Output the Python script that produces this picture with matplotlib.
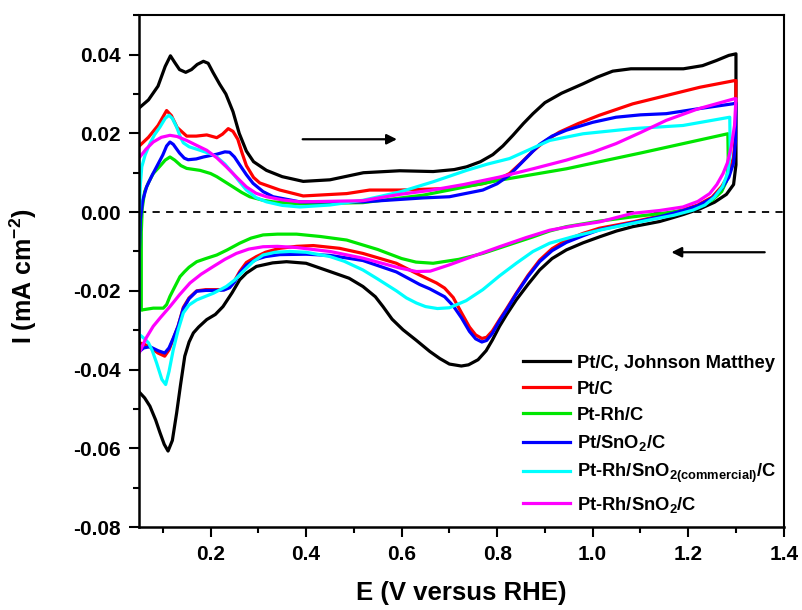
import matplotlib
matplotlib.use("Agg")
import matplotlib.pyplot as plt
from matplotlib.ticker import MultipleLocator
import numpy as np

plt.rcParams["font.family"] = ["Liberation Sans", "DejaVu Sans"]
plt.rcParams["font.weight"] = "bold"
plt.rcParams["mathtext.fontset"] = "custom"
plt.rcParams["mathtext.rm"] = "Liberation Sans:bold"
plt.rcParams["mathtext.it"] = "Liberation Sans:bold"
plt.rcParams["mathtext.bf"] = "Liberation Sans:bold"
plt.rcParams["mathtext.default"] = "rm"

# Cyclic voltammograms: forward (anodic) and reverse (cathodic) scans
# --- Pt/C, Johnson Matthey
jm_fwd_E = [0.05, 0.07, 0.09, 0.105, 0.116, 0.125, 0.135, 0.148, 0.16, 0.172, 0.185, 0.195,
            0.205, 0.219, 0.232, 0.247, 0.26, 0.275, 0.29, 0.317, 0.35, 0.394, 0.45, 0.52,
            0.596, 0.666, 0.71, 0.736, 0.765, 0.791, 0.812, 0.833, 0.855, 0.875, 0.90, 0.935,
            0.98, 1.01, 1.042, 1.08, 1.119, 1.19, 1.23, 1.259, 1.285, 1.30]
jm_fwd_I = [0.0264, 0.0285, 0.0320, 0.0370, 0.0397, 0.0380, 0.0362, 0.0355, 0.0362, 0.0375,
            0.0383, 0.0378, 0.0355, 0.0325, 0.0300, 0.0255, 0.0200, 0.0155, 0.0128, 0.0106,
            0.0090, 0.0078, 0.0082, 0.0100, 0.0105, 0.0103, 0.0108, 0.0115, 0.0128, 0.0146,
            0.0168, 0.0195, 0.0225, 0.0250, 0.0278, 0.0302, 0.0326, 0.0343, 0.0358, 0.0364,
            0.0364, 0.0364, 0.0372, 0.0385, 0.0398, 0.0402]
jm_rev_E = [1.30, 1.30, 1.295, 1.28, 1.255, 1.224, 1.19, 1.16, 1.14, 1.11, 1.084, 1.05, 1.014,
            0.98, 0.945, 0.915, 0.889, 0.865, 0.84, 0.82, 0.805, 0.79, 0.777, 0.76, 0.74, 0.725,
            0.70, 0.68, 0.659, 0.63, 0.603, 0.58, 0.561, 0.545, 0.519, 0.49, 0.45, 0.40, 0.359,
            0.33, 0.296, 0.275, 0.261, 0.245, 0.226, 0.21, 0.192, 0.175, 0.164, 0.155, 0.146,
            0.137, 0.129, 0.12, 0.111, 0.103, 0.094, 0.085, 0.073, 0.062, 0.052]
jm_rev_I = [0.0402, 0.0120, 0.0070, 0.0045, 0.0025, 0.0008, -0.0006, -0.0017, -0.0024, -0.0031,
            -0.0037, -0.0048, -0.0063, -0.0078, -0.0096, -0.0118, -0.0147, -0.0183, -0.0223,
            -0.0260, -0.0290, -0.0325, -0.0352, -0.0375, -0.0388, -0.0391, -0.0386, -0.0372,
            -0.0354, -0.0325, -0.0299, -0.0272, -0.0240, -0.0215, -0.0189, -0.0168, -0.0151,
            -0.0130, -0.0126, -0.0129, -0.0138, -0.0155, -0.0172, -0.0205, -0.0240, -0.0260,
            -0.0273, -0.0292, -0.0307, -0.0330, -0.0366, -0.0440, -0.0510, -0.0580, -0.0607,
            -0.0590, -0.0560, -0.0528, -0.0493, -0.0472, -0.0459]

# --- Pt/C
ptc_fwd_E = [0.05, 0.07, 0.09, 0.108, 0.118, 0.13, 0.15, 0.17, 0.192, 0.213, 0.225, 0.237,
             0.247, 0.257, 0.266, 0.275, 0.29, 0.303, 0.345, 0.394, 0.485, 0.533, 0.596, 0.70,
             0.77, 0.80, 0.826, 0.85, 0.875, 0.90, 0.93, 0.97, 1.014, 1.084, 1.154, 1.224,
             1.297, 1.30]
ptc_fwd_I = [0.0167, 0.0190, 0.0220, 0.0258, 0.0245, 0.0215, 0.0193, 0.0193, 0.0196, 0.0189,
             0.0198, 0.0212, 0.0205, 0.0185, 0.0150, 0.0118, 0.0088, 0.0074, 0.0056, 0.0041,
             0.0047, 0.0056, 0.0056, 0.0060, 0.0072, 0.0082, 0.0098, 0.0125, 0.0155, 0.0180,
             0.0203, 0.0225, 0.0246, 0.0275, 0.0296, 0.0317, 0.0334, 0.0334]
ptc_rev_E = [1.30, 1.299, 1.295, 1.285, 1.27, 1.25, 1.22, 1.19, 1.14, 1.084, 1.014, 0.98,
             0.945, 0.915, 0.889, 0.865, 0.84, 0.82, 0.805, 0.79, 0.778, 0.768, 0.755, 0.742,
             0.725, 0.708, 0.69, 0.673, 0.638, 0.589, 0.519, 0.47, 0.415, 0.38, 0.345, 0.315,
             0.296, 0.275, 0.261, 0.25, 0.24, 0.228, 0.213, 0.19, 0.171, 0.155, 0.143, 0.132,
             0.122, 0.113, 0.104, 0.09, 0.073, 0.06, 0.05]
ptc_rev_I = [0.0334, 0.0200, 0.0140, 0.0095, 0.0065, 0.0038, 0.0018, 0.0006, -0.0010, -0.0025,
             -0.0041, -0.0054, -0.0071, -0.0093, -0.0122, -0.0160, -0.0206, -0.0245, -0.0273,
             -0.0302, -0.0318, -0.0321, -0.0312, -0.0292, -0.0255, -0.0217, -0.0193, -0.0180,
             -0.0160, -0.0130, -0.0105, -0.0092, -0.0085, -0.0087, -0.0092, -0.0102, -0.0113,
             -0.0128, -0.0151, -0.0175, -0.0190, -0.0197, -0.0197, -0.0197, -0.0200, -0.0218,
             -0.0242, -0.0290, -0.0322, -0.0350, -0.0366, -0.0358, -0.0343, -0.0335, -0.0332]

# --- Pt-Rh/C
ptrh_fwd_E = [0.055, 0.055, 0.057, 0.062, 0.07, 0.08, 0.095, 0.105, 0.115, 0.125, 0.138, 0.15,
              0.178, 0.20, 0.213, 0.23, 0.247, 0.265, 0.282, 0.31, 0.331, 0.387, 0.519, 0.645,
              0.805, 0.945, 1.10, 1.283]
ptrh_fwd_I = [-0.0248, -0.0050, 0.0010, 0.0052, 0.0075, 0.0098, 0.0118, 0.0132, 0.0140,
              0.0132, 0.0118, 0.0111, 0.0106, 0.0098, 0.0090, 0.0077, 0.0064, 0.0050, 0.0039,
              0.0030, 0.0026, 0.0021, 0.0024, 0.0043, 0.0081, 0.0110, 0.0150, 0.0199]
ptrh_rev_E = [1.283, 1.284, 1.28, 1.27, 1.25, 1.22, 1.19, 1.14, 1.084, 1.014, 0.945, 0.91,
              0.875, 0.82, 0.77, 0.72, 0.666, 0.63, 0.60, 0.55, 0.485, 0.43, 0.38, 0.34, 0.31,
              0.285, 0.261, 0.235, 0.213, 0.19, 0.171, 0.155, 0.145, 0.136, 0.125, 0.115, 0.108,
              0.101, 0.08, 0.059, 0.055]
ptrh_rev_I = [0.0199, 0.0120, 0.0078, 0.0052, 0.0030, 0.0014, 0.0004, -0.0004, -0.0012,
              -0.0023, -0.0037, -0.0048, -0.0063, -0.0085, -0.0105, -0.0120, -0.0130, -0.0127,
              -0.0118, -0.0095, -0.0071, -0.0062, -0.0056, -0.0056, -0.0058, -0.0066, -0.0079,
              -0.0096, -0.0109, -0.0118, -0.0126, -0.0140, -0.0152, -0.0164, -0.0190, -0.0214,
              -0.0235, -0.0244, -0.0244, -0.0248, -0.0248]

# --- Pt/SnO2/C
ptsn_fwd_E = [0.05, 0.051, 0.053, 0.058, 0.066, 0.077, 0.087, 0.10, 0.108, 0.115, 0.122, 0.135,
              0.145, 0.153, 0.17, 0.185, 0.213, 0.23, 0.24, 0.25, 0.261, 0.275, 0.289, 0.31,
              0.331, 0.387, 0.519, 0.645, 0.70, 0.77, 0.80, 0.826, 0.855, 0.889, 0.915, 0.945,
              1.00, 1.049, 1.10, 1.154, 1.224, 1.293, 1.30]
ptsn_fwd_I = [-0.0355, -0.0100, -0.0020, 0.0030, 0.0064, 0.0092, 0.0115, 0.0145, 0.0168,
              0.0178, 0.0172, 0.0150, 0.0137, 0.0133, 0.0135, 0.0140, 0.0147, 0.0153, 0.0152,
              0.0140, 0.0120, 0.0095, 0.0073, 0.0052, 0.0039, 0.0026, 0.0026, 0.0036, 0.0039,
              0.0056, 0.0072, 0.0094, 0.0130, 0.0172, 0.0193, 0.0208, 0.0228, 0.0241, 0.0247,
              0.0250, 0.0263, 0.0275, 0.0277]
ptsn_rev_E = [1.30, 1.299, 1.295, 1.285, 1.27, 1.25, 1.22, 1.19, 1.14, 1.084, 1.014, 0.98,
              0.945, 0.915, 0.889, 0.865, 0.84, 0.82, 0.805, 0.79, 0.778, 0.768, 0.755, 0.742,
              0.725, 0.708, 0.69, 0.659, 0.638, 0.589, 0.519, 0.45, 0.40, 0.345, 0.315, 0.296,
              0.275, 0.261, 0.25, 0.24, 0.228, 0.213, 0.19, 0.171, 0.155, 0.143, 0.132, 0.122,
              0.113, 0.104, 0.09, 0.073, 0.06, 0.05]
ptsn_rev_I = [0.0277, 0.0180, 0.0125, 0.0088, 0.0060, 0.0035, 0.0016, 0.0004, -0.0012,
              -0.0027, -0.0045, -0.0060, -0.0077, -0.0098, -0.0126, -0.0163, -0.0208, -0.0248,
              -0.0276, -0.0308, -0.0326, -0.0330, -0.0322, -0.0303, -0.0268, -0.0238, -0.0215,
              -0.0195, -0.0184, -0.0152, -0.0123, -0.0110, -0.0107, -0.0108, -0.0113, -0.0120,
              -0.0135, -0.0155, -0.0178, -0.0192, -0.0198, -0.0199, -0.0199, -0.0201, -0.0220,
              -0.0245, -0.0290, -0.0320, -0.0345, -0.0358, -0.0352, -0.0342, -0.0345, -0.0355]

# --- Pt-Rh/SnO2(commercial)/C
ptrhc_fwd_E = [0.05, 0.051, 0.053, 0.056, 0.063, 0.073, 0.083, 0.094, 0.105, 0.113, 0.12,
               0.129, 0.137, 0.143, 0.155, 0.178, 0.20, 0.213, 0.23, 0.247, 0.262, 0.275, 0.295,
               0.317, 0.35, 0.387, 0.45, 0.519, 0.596, 0.666, 0.736, 0.78, 0.826, 0.87, 0.91,
               0.98, 1.084, 1.189, 1.287]
ptrhc_fwd_I = [-0.0310, 0.0000, 0.0070, 0.0115, 0.0145, 0.0174, 0.0197, 0.0216, 0.0238,
               0.0246, 0.0238, 0.0216, 0.0190, 0.0176, 0.0166, 0.0157, 0.0148, 0.0140, 0.0122,
               0.0098, 0.0075, 0.0056, 0.0037, 0.0026, 0.0017, 0.0013, 0.0018, 0.0030, 0.0051,
               0.0077, 0.0106, 0.0122, 0.0136, 0.0160, 0.0182, 0.0199, 0.0212, 0.0220, 0.0241]
ptrhc_rev_E = [1.287, 1.288, 1.283, 1.272, 1.255, 1.235, 1.21, 1.17, 1.119, 1.07, 1.014, 0.96,
               0.91, 0.875, 0.84, 0.805, 0.77, 0.735, 0.70, 0.675, 0.65, 0.631, 0.61, 0.589,
               0.55, 0.519, 0.48, 0.45, 0.40, 0.366, 0.335, 0.31, 0.29, 0.268, 0.25, 0.233,
               0.206, 0.171, 0.155, 0.143, 0.132, 0.122, 0.113, 0.106, 0.098, 0.087, 0.078,
               0.07, 0.062, 0.056, 0.05]
ptrhc_rev_I = [0.0241, 0.0150, 0.0100, 0.0065, 0.0038, 0.0018, 0.0005, -0.0008, -0.0020,
               -0.0032, -0.0046, -0.0062, -0.0079, -0.0100, -0.0130, -0.0162, -0.0197, -0.0225,
               -0.0243, -0.0245, -0.0240, -0.0231, -0.0218, -0.0200, -0.0170, -0.0147, -0.0125,
               -0.0113, -0.0102, -0.0100, -0.0102, -0.0109, -0.0125, -0.0151, -0.0173, -0.0189,
               -0.0206, -0.0223, -0.0236, -0.0256, -0.0300, -0.0349, -0.0405, -0.0438, -0.0425,
               -0.0383, -0.0352, -0.0332, -0.0322, -0.0316, -0.0310]

# --- Pt-Rh/SnO2/C
ptrhs_fwd_E = [0.052, 0.065, 0.08, 0.097, 0.115, 0.13, 0.15, 0.17, 0.192, 0.213, 0.233, 0.255,
               0.275, 0.295, 0.317, 0.35, 0.387, 0.519, 0.596, 0.659, 0.73, 0.805, 0.875, 0.945,
               1.00, 1.049, 1.10, 1.154, 1.22, 1.297, 1.30]
ptrhs_fwd_I = [0.0140, 0.0160, 0.0178, 0.0190, 0.0195, 0.0192, 0.0182, 0.0170, 0.0157, 0.0138,
               0.0115, 0.0088, 0.0064, 0.0048, 0.0039, 0.0031, 0.0026, 0.0029, 0.0045, 0.0055,
               0.0070, 0.0089, 0.0110, 0.0132, 0.0152, 0.0174, 0.0202, 0.0233, 0.0262, 0.0288,
               0.0288]
ptrhs_rev_E = [1.30, 1.297, 1.29, 1.282, 1.273, 1.26, 1.245, 1.22, 1.189, 1.14, 1.084, 1.014,
               0.96, 0.91, 0.86, 0.805, 0.75, 0.70, 0.66, 0.631, 0.596, 0.519, 0.45, 0.38, 0.34,
               0.31, 0.28, 0.254, 0.23, 0.206, 0.18, 0.157, 0.135, 0.115, 0.095, 0.08, 0.065,
               0.052]
ptrhs_rev_I = [0.0288, 0.0220, 0.0165, 0.0125, 0.0098, 0.0070, 0.0047, 0.0027, 0.0013, 0.0004,
               -0.0003, -0.0025, -0.0035, -0.0046, -0.0065, -0.0088, -0.0112, -0.0134, -0.0150,
               -0.0151, -0.0142, -0.0117, -0.0100, -0.0090, -0.0087, -0.0088, -0.0094, -0.0105,
               -0.0120, -0.0138, -0.0158, -0.0180, -0.0210, -0.0240, -0.0268, -0.0290, -0.0320,
               -0.0354]

labels = ["Pt/C, Johnson Matthey", "Pt/C", "Pt-Rh/C", r"Pt/SnO$_2$/C",
          r"Pt-Rh/SnO$_{2(commercial)}$/C", r"Pt-Rh/SnO$_2$/C"]
colors = ["black", "#ff0000", "#00e600", "#0000ff", "#00ffff", "#ff00ff"]
curves = [
    (jm_fwd_E, jm_fwd_I, jm_rev_E, jm_rev_I),
    (ptc_fwd_E, ptc_fwd_I, ptc_rev_E, ptc_rev_I),
    (ptrh_fwd_E, ptrh_fwd_I, ptrh_rev_E, ptrh_rev_I),
    (ptsn_fwd_E, ptsn_fwd_I, ptsn_rev_E, ptsn_rev_I),
    (ptrhc_fwd_E, ptrhc_fwd_I, ptrhc_rev_E, ptrhc_rev_I),
    (ptrhs_fwd_E, ptrhs_fwd_I, ptrhs_rev_E, ptrhs_rev_I),
]

fig = plt.figure(figsize=(8.03, 6.10), dpi=100)
ax = fig.add_axes([0.173, 0.136, 0.803, 0.839])

for (fe, fi, re_, ri), c, lab in zip(curves, colors, labels):
    E = np.concatenate([fe, re_])
    I = np.concatenate([fi, ri])
    ax.plot(E, I, color=c, lw=2.3, label=lab, solid_joinstyle="round")

ax.axhline(0, color="black", lw=1.3, ls=(0, (4, 3.5)), zorder=0)

# scan direction arrows
ax.annotate("", xy=(0.596, 0.0185), xytext=(0.387, 0.0185),
            arrowprops=dict(arrowstyle="-|>", color="black", lw=1.6, mutation_scale=15))
ax.annotate("", xy=(1.159, -0.0102), xytext=(1.366, -0.0102),
            arrowprops=dict(arrowstyle="-|>", color="black", lw=1.6, mutation_scale=15))

ax.set_xlim(0.05, 1.4)
ax.set_ylim(-0.08, 0.05)
ax.xaxis.set_minor_locator(MultipleLocator(0.1))
ax.yaxis.set_minor_locator(MultipleLocator(0.01))
ax.set_xticks([0.2, 0.4, 0.6, 0.8, 1.0, 1.2, 1.4])
ax.set_xticklabels(["0.2", "0.4", "0.6", "0.8", "1.0", "1.2", "1.4"])
ax.set_yticks([0.04, 0.02, 0.0, -0.02, -0.04, -0.06, -0.08])
ax.set_yticklabels(["0.04", "0.02", "0.00", "-0.02", "-0.04", "-0.06", "-0.08"])

ax.tick_params(which="major", direction="out", length=7, width=1.5, labelsize=15, pad=6)
ax.tick_params(which="minor", direction="out", length=4, width=1.5)
for s in ["left", "bottom"]:
    ax.spines[s].set_linewidth(1.8)
for s in ["top", "right"]:
    ax.spines[s].set_linewidth(1.5)

ax.set_xlabel("E (V versus RHE)", fontsize=18.5, fontweight="bold", labelpad=12)
ax.set_ylabel(r"I (mA cm$^{-2}$)", fontsize=18, fontweight="bold")
ax.yaxis.set_label_coords(-0.155, 0.49)

ax.legend(loc="lower right", bbox_to_anchor=(1.0, 0.01), frameon=False, fontsize=13.2,
          handlelength=2.6, handletextpad=0.35, labelspacing=0.5, borderaxespad=0.0)

fig.savefig("out.png", dpi=100)
